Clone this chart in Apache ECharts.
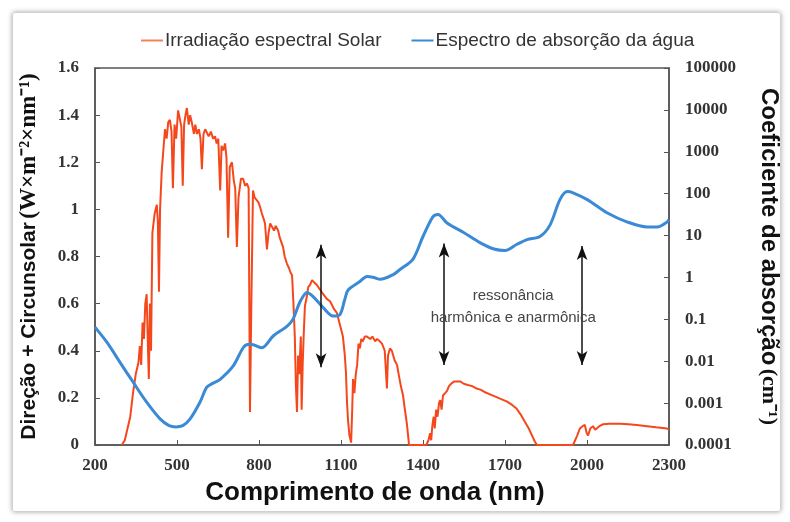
<!DOCTYPE html>
<html>
<head>
<meta charset="utf-8">
<script src="https://cdn.jsdelivr.net/npm/echarts@6/dist/echarts.min.js"></script>
<style>
html,body{margin:0;padding:0;background:#fff;}
#wrap{position:relative;width:790px;height:522px;}
#chart{width:790px;height:522px;}
#frame{position:absolute;left:12px;top:12px;width:767px;height:498px;border:1px solid #d0d0d0;border-radius:3px;box-shadow:0 0 5px rgba(0,0,0,0.35);pointer-events:none;}
</style>
</head>
<body>
<div id="wrap">
<div id="chart"></div>
<div id="frame"></div>
</div>
<script>
// irradiação espectral (W m-2 nm-1)
var solarNm = [298,309,319,329,339,349,359,364,369,374,379,384,389,394,397,401,405,410,418,426,430,434,438,444,450,456,462,468,474,480,485,491,497,504,511,516,521,526,531,536,543,548,554,562,567,573,580,586,591,597,603,609,616,624,632,639,645,651,658,663,669,676,681,687,693,701,708,713,719,725,734,742,749,756,762,767,772,778,784,791,798,804,811,817,822,829,835,841,847,855,861,870,876,882,888,894,902,910,916,921,926,931,935,939,943,947,953,956,960,964,968,975,980,987,994,1002,1011,1023,1035,1048,1060,1073,1085,1096,1107,1114,1118,1122,1126,1131,1137,1141,1144,1149,1154,1159,1164,1169,1174,1180,1187,1195,1207,1215,1225,1232,1242,1250,1260,1265,1268,1272,1279,1286,1296,1305,1311,1319,1327,1335,1341,1349,1412,1420,1426,1430,1434,1439,1443,1448,1453,1459,1463,1468,1473,1481,1488,1495,1503,1514,1524,1536,1549,1564,1580,1595,1610,1625,1645,1665,1686,1706,1726,1742,1757,1772,1787,1799,1809,1817,1949,1964,1974,1984,1992,1999,2004,2012,2022,2030,2037,2045,2059,2081,2101,2122,2152,2182,2220,2253,2293,2300];
var solarVal = [0,0.02,0.07,0.12,0.22,0.30,0.35,0.42,0.34,0.52,0.45,0.60,0.64,0.40,0.28,0.60,0.40,0.90,0.98,1.02,0.95,0.65,1.00,1.16,1.25,1.34,1.30,1.37,1.38,1.33,1.09,1.36,1.30,1.42,1.38,1.35,1.10,1.36,1.40,1.43,1.36,1.40,1.37,1.32,1.36,1.32,1.34,1.30,1.17,1.32,1.34,1.34,1.31,1.33,1.30,1.31,1.28,1.30,1.08,1.27,1.25,1.28,1.22,0.88,1.18,1.20,1.12,1.09,0.84,1.05,1.13,1.13,1.10,1.11,1.09,0.14,0.60,1.08,1.05,1.04,1.03,1.01,0.98,0.96,0.94,0.83,0.90,0.94,0.94,0.91,0.93,0.91,0.88,0.86,0.84,0.80,0.77,0.75,0.73,0.72,0.60,0.46,0.25,0.14,0.38,0.30,0.46,0.15,0.35,0.48,0.59,0.63,0.67,0.68,0.70,0.69,0.68,0.66,0.64,0.62,0.61,0.58,0.56,0.51,0.46,0.38,0.31,0.18,0.10,0.04,0.01,0.15,0.28,0.22,0.30,0.34,0.43,0.41,0.45,0.44,0.46,0.46,0.45,0.46,0.44,0.45,0.44,0.43,0.40,0.30,0.24,0.38,0.41,0.40,0.36,0.34,0.30,0.25,0.21,0.14,0.09,0,0,0.02,0.05,0.02,0.08,0.12,0.07,0.15,0.12,0.18,0.19,0.15,0.21,0.22,0.23,0.25,0.26,0.27,0.27,0.27,0.26,0.255,0.25,0.24,0.235,0.225,0.215,0.205,0.195,0.185,0.17,0.155,0.13,0.10,0.07,0.04,0.015,0,0,0.04,0.07,0.08,0.085,0.05,0.04,0.07,0.08,0.065,0.06,0.08,0.088,0.09,0.09,0.09,0.088,0.085,0.08,0.075,0.07,0.065];

// coeficiente de absorção da água (cm-1)
var waterNm = [200,244,291,339,389,438,471,496,521,548,584,609,632,658,705,742,759,774,811,852,902,924,951,976,998,1035,1071,1096,1114,1126,1169,1195,1220,1243,1291,1316,1363,1400,1436,1455,1488,1547,1608,1663,1700,1744,1781,1828,1865,1901,1928,1949,2001,2073,2148,2220,2257,2293,2300];
var waterVal = [0.065,0.028,0.0095,0.0032,0.00105,0.00042,0.00029,0.00027,0.00029,0.00042,0.00105,0.0024,0.003,0.0037,0.0076,0.021,0.025,0.025,0.021,0.04,0.068,0.1,0.27,0.44,0.35,0.19,0.12,0.13,0.3,0.5,0.8,1.05,1.0,0.9,1.17,1.55,2.7,9.5,28,32,20,12,6.8,4.7,4.4,6.2,8,9.5,18,72,112,105,72,35,21,16,16,21,24];

var rightTicks = ['0.0001','0.001','0.01','0.1','1','10','100','1000','10000','100000'];
var arrowX = [1027, 1477, 1982];
var arrowLow = [0.33, 0.34, 0.34];
var arrowHigh = [0.85, 0.855, 0.845];

var solarData = solarNm.map(function (x, i) { return [x, solarVal[i]]; });
var waterData = waterNm.map(function (x, i) { return [x, waterVal[i]]; });
var arrows = arrowX.map(function (x, i) {
    return [{coord: [x, arrowLow[i]]}, {coord: [x, arrowHigh[i]]}];
});

var chart = echarts.init(document.getElementById('chart'));
var serif = 'Liberation Serif';
var sans = 'Liberation Sans';

var option = {
    backgroundColor: '#fff',
    animation: false,
    legend: {
        top: 26,
        left: 136,
        itemGap: 30,
        itemWidth: 22,
        itemHeight: 2,
        icon: 'rect',
        textStyle: {fontFamily: sans, fontSize: 19, color: '#333', padding: [0, 0, 0, -3]},
        data: [
            {name: 'Irradiação espectral Solar', itemStyle: {color: '#f08458'}},
            {name: 'Espectro de absorção da água', itemStyle: {color: '#3a8ad6'}}
        ]
    },
    grid: {left: 95, right: 121, top: 68, bottom: 77, show: true, borderColor: '#555', borderWidth: 1.5},
    xAxis: {
        type: 'value',
        min: 200, max: 2300, interval: 300,
        name: 'Comprimento de onda (nm)',
        nameLocation: 'middle',
        nameGap: 35,
        nameTextStyle: {fontFamily: sans, fontSize: 26, fontWeight: 'bold', color: '#111', padding: [0, 14, 0, 0]},
        axisLine: {lineStyle: {color: '#555', width: 1.5}},
        axisTick: {inside: true, length: 5, lineStyle: {color: '#555'}},
        axisLabel: {fontFamily: serif, fontWeight: 'bold', fontSize: 17, color: '#333', margin: 12,
            formatter: function (v) { return String(v); }},
        splitLine: {show: false}
    },
    yAxis: [{
        type: 'value',
        min: 0, max: 1.6, interval: 0.2,
        name: '{a|Direção + Circunsolar} {b|(W×m⁻²×nm⁻¹)}',
        nameLocation: 'middle',
        nameGap: 54,
        nameTextStyle: {
            rich: {
                a: {fontFamily: sans, fontSize: 21, fontWeight: 'bold', color: '#111'},
                b: {fontFamily: serif, fontSize: 23, fontWeight: 'bold', color: '#111'}
            }
        },
        axisLine: {show: true, lineStyle: {color: '#555', width: 1.5}},
        axisTick: {show: true, inside: true, length: 5, lineStyle: {color: '#555'}},
        axisLabel: {fontFamily: serif, fontWeight: 'bold', fontSize: 17, color: '#333', margin: 16},
        splitLine: {show: false}
    }, {
        type: 'log',
        logBase: 10,
        min: 0.0001, max: 100000, interval: 1,
        position: 'right',
        name: '{a|Coeficiente de absorção} {b|(cm⁻¹)}',
        nameLocation: 'middle',
        nameGap: 88,
        nameRotate: -90,
        nameTextStyle: {
            rich: {
                a: {fontFamily: sans, fontSize: 24, fontWeight: 'bold', color: '#111'},
                b: {fontFamily: serif, fontSize: 22, fontWeight: 'bold', color: '#111'}
            }
        },
        axisLine: {show: true, lineStyle: {color: '#555', width: 1.5}},
        axisTick: {show: true, inside: true, length: 5, lineStyle: {color: '#555'}},
        axisLabel: {
            fontFamily: serif, fontWeight: 'bold', fontSize: 17, color: '#333', margin: 16,
            formatter: function (v) { return rightTicks[Math.round(Math.log10(v)) + 4]; }
        },
        splitLine: {show: false}
    }],
    series: [{
        name: 'Irradiação espectral Solar',
        type: 'line',
        yAxisIndex: 0,
        showSymbol: false,
        symbol: 'none',
        color: '#f4481c',
        lineStyle: {width: 2, color: '#f4481c'},
        data: solarData,
        markLine: {
            silent: true,
            symbol: ['arrow', 'arrow'],
            symbolSize: [8, 14],
            label: {show: false},
            lineStyle: {color: '#111', width: 1.5, type: 'solid'},
            data: arrows
        },
        markPoint: {
            silent: true,
            symbol: 'rect',
            symbolSize: 0,
            label: {
                show: true,
                position: 'inside',
                formatter: 'ressonância\nharmônica e anarmônica',
                fontFamily: sans, fontSize: 15, lineHeight: 22, color: '#444'
            },
            data: [{coord: [1730, 0.585]}]
        }
    }, {
        name: 'Espectro de absorção da água',
        type: 'line',
        yAxisIndex: 1,
        smooth: 0.3,
        showSymbol: false,
        symbol: 'none',
        color: '#3a8ad6',
        lineStyle: {width: 3, color: '#3a8ad6'},
        data: waterData
    }]
};
chart.setOption(option);
</script>
</body>
</html>
